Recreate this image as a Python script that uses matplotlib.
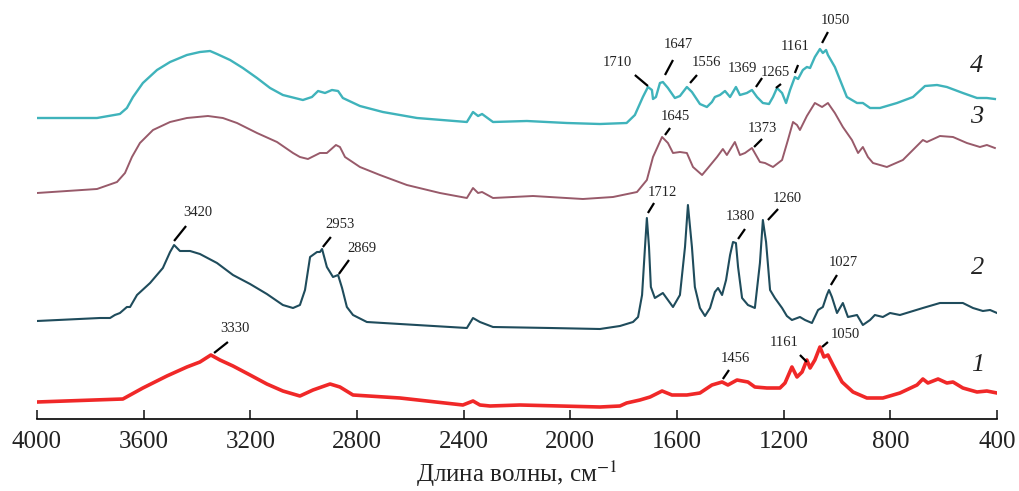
import matplotlib.pyplot as plt

plt.rcParams['font.family'] = ['Liberation Serif', 'DejaVu Serif']
plt.rcParams['mathtext.fontset'] = 'stix'

# IR spectra, wavenumber (cm-1) and intensity (arb. units, offset per curve)
wn_1 = [4000, 3678, 3603, 3513, 3438, 3389, 3348, 3314, 3265, 3201, 3138, 3078, 3014,
        2965, 2901, 2864, 2815, 2639, 2403, 2365, 2339, 2301, 2189, 2039, 1889, 1814,
        1789, 1739, 1701, 1656, 1619, 1563, 1514, 1469, 1431, 1409, 1375, 1334, 1308,
        1263, 1214, 1195, 1169, 1150, 1131, 1113, 1101, 1083, 1064, 1049, 1034, 1015,
        981, 940, 888, 828, 764, 700, 678, 659, 621, 588, 565, 528, 475, 438, 400]
int_1 = [0.17, 0.20, 0.31, 0.43, 0.52, 0.57, 0.64, 0.59, 0.53, 0.44, 0.35, 0.28, 0.23,
         0.29, 0.35, 0.32, 0.24, 0.21, 0.14, 0.18, 0.14, 0.13, 0.14, 0.13, 0.12, 0.13,
         0.16, 0.19, 0.22, 0.28, 0.24, 0.24, 0.26, 0.34, 0.37, 0.34, 0.39, 0.37, 0.32,
         0.31, 0.31, 0.36, 0.52, 0.42, 0.47, 0.59, 0.51, 0.59, 0.72, 0.62, 0.64, 0.54,
         0.37, 0.27, 0.21, 0.21, 0.26, 0.34, 0.40, 0.36, 0.40, 0.36, 0.37, 0.31, 0.27, 0.28, 0.26]

wn_2 = [4000, 3764, 3726, 3708, 3689, 3663, 3651, 3625, 3576, 3528, 3501, 3486, 3464,
        3426, 3389, 3325, 3265, 3201, 3138, 3078, 3040, 3014, 2995, 2976, 2950, 2939,
        2931, 2913, 2890, 2871, 2856, 2838, 2815, 2763, 2639, 2451, 2388, 2365, 2339,
        2290, 2076, 1889, 1814, 1765, 1746, 1731, 1720, 1713, 1705, 1698, 1683, 1653,
        1634, 1615, 1589, 1570, 1559, 1544, 1533, 1514, 1495, 1476, 1458, 1446, 1431,
        1416, 1401, 1390, 1379, 1371, 1356, 1334, 1308, 1289, 1278, 1266, 1251, 1233,
        1206, 1188, 1169, 1139, 1120, 1094, 1071, 1053, 1038, 1030, 1019, 1000, 978,
        959, 925, 903, 876, 858, 828, 801, 764, 678, 614, 528, 490, 453, 426, 400]
int_2 = [0.98, 1.01, 1.01, 1.04, 1.06, 1.12, 1.12, 1.24, 1.36, 1.51, 1.67, 1.74, 1.68,
         1.68, 1.65, 1.56, 1.44, 1.35, 1.25, 1.14, 1.11, 1.14, 1.29, 1.62, 1.67, 1.67,
         1.70, 1.52, 1.42, 1.44, 1.31, 1.12, 1.04, 0.97, 0.95, 0.92, 0.91, 1.01, 0.97,
         0.92, 0.91, 0.90, 0.93, 0.97, 1.02, 1.24, 1.72, 2.01, 1.72, 1.32, 1.21, 1.26,
         1.19, 1.12, 1.24, 1.72, 2.14, 1.72, 1.32, 1.11, 1.03, 1.11, 1.27, 1.31, 1.24,
         1.39, 1.64, 1.77, 1.76, 1.52, 1.21, 1.14, 1.11, 1.56, 1.99, 1.77, 1.29, 1.21,
         1.11, 1.03, 0.99, 1.02, 0.99, 0.96, 1.09, 1.12, 1.24, 1.29, 1.22, 1.06, 1.16,
         1.02, 1.04, 0.94, 0.99, 1.04, 1.02, 1.06, 1.04, 1.11, 1.16, 1.16, 1.11, 1.08, 1.09, 1.06]

wn_3 = [4000, 3775, 3700, 3670, 3644, 3614, 3565, 3501, 3438, 3359, 3303, 3250, 3175,
        3100, 3040, 3014, 2984, 2939, 2913, 2879, 2864, 2845, 2789, 2714, 2613, 2489,
        2388, 2365, 2346, 2331, 2290, 2140, 1953, 1840, 1750, 1713, 1690, 1656, 1634,
        1615, 1589, 1563, 1540, 1506, 1484, 1450, 1428, 1413, 1383, 1364, 1345, 1319,
        1289, 1270, 1240, 1206, 1184, 1165, 1150, 1139, 1113, 1083, 1056, 1034, 1008,
        978, 944, 921, 903, 884, 865, 813, 753, 678, 663, 614, 565, 513, 464, 438, 408]
int_3 = [2.26, 2.30, 2.37, 2.46, 2.62, 2.76, 2.89, 2.97, 3.01, 3.03, 3.01, 2.96, 2.86,
         2.77, 2.66, 2.62, 2.60, 2.66, 2.66, 2.74, 2.72, 2.62, 2.52, 2.44, 2.34, 2.26,
         2.21, 2.31, 2.26, 2.27, 2.21, 2.23, 2.20, 2.22, 2.27, 2.39, 2.62, 2.82, 2.76,
         2.66, 2.67, 2.66, 2.52, 2.44, 2.51, 2.62, 2.70, 2.64, 2.77, 2.64, 2.66, 2.71,
         2.57, 2.56, 2.52, 2.59, 2.79, 2.97, 2.94, 2.89, 3.03, 3.16, 3.12, 3.16, 3.06,
         2.92, 2.79, 2.66, 2.72, 2.62, 2.56, 2.52, 2.59, 2.79, 2.77, 2.83, 2.82, 2.76, 2.72, 2.74, 2.71]

wn_4 = [4000, 3775, 3689, 3663, 3640, 3603, 3550, 3501, 3438, 3389, 3351, 3325, 3276,
        3228, 3175, 3126, 3078, 3003, 2969, 2946, 2920, 2894, 2871, 2853, 2789, 2703,
        2575, 2388, 2365, 2346, 2331, 2290, 2163, 2013, 1889, 1789, 1758, 1728, 1709,
        1694, 1690, 1679, 1664, 1653, 1634, 1608, 1589, 1563, 1544, 1514, 1488, 1469,
        1458, 1439, 1420, 1401, 1379, 1364, 1338, 1319, 1300, 1278, 1255, 1240, 1225,
        1206, 1191, 1176, 1158, 1146, 1128, 1113, 1101, 1083, 1064, 1053, 1041, 1034,
        1008, 981, 963, 925, 903, 876, 839, 775, 715, 670, 625, 588, 528, 475, 438, 408]
int_4 = [3.01, 3.01, 3.05, 3.11, 3.22, 3.36, 3.49, 3.57, 3.64, 3.67, 3.68, 3.65, 3.59,
         3.51, 3.41, 3.31, 3.24, 3.19, 3.22, 3.28, 3.26, 3.29, 3.28, 3.21, 3.13, 3.07,
         3.01, 2.97, 3.07, 3.03, 3.05, 2.97, 2.98, 2.96, 2.95, 2.96, 3.04, 3.22, 3.32,
         3.29, 3.20, 3.22, 3.36, 3.37, 3.31, 3.21, 3.23, 3.32, 3.27, 3.15, 3.12, 3.17,
         3.22, 3.24, 3.28, 3.22, 3.32, 3.24, 3.26, 3.29, 3.22, 3.16, 3.15, 3.22, 3.31,
         3.26, 3.16, 3.29, 3.42, 3.40, 3.49, 3.52, 3.51, 3.62, 3.70, 3.66, 3.69, 3.64,
         3.52, 3.34, 3.22, 3.16, 3.16, 3.11, 3.11, 3.16, 3.22, 3.33, 3.34, 3.32, 3.26, 3.21, 3.21, 3.20]

# peak labels: text, text position, leader line start -> end
peak_labels = ['1710', '1647', '1556', '1369', '1265', '1161', '1050', '1645', '1373',
               '1712', '1380', '1260', '1027', '3420', '2953', '2869',
               '1456', '1161', '1050', '3330']
label_wn = [1825, 1596, 1488, 1353, 1233, 1158, 1008, 1608, 1278,
            1656, 1364, 1188, 978, 3396, 2864, 2781,
            1383, 1199, 970, 3258]
label_int = [3.56, 3.74, 3.56, 3.51, 3.46, 3.72, 3.99, 3.03, 2.91,
             2.27, 2.02, 2.21, 1.56, 2.07, 1.94, 1.71,
             0.61, 0.77, 0.84, 0.90]
lead_wn0 = [1758, 1615, 1525, 1281, 1210, 1146, 1034, 1626, 1281,
            1686, 1345, 1221, 1000, 3441, 2898, 2830,
            1405, 1139, 1034, 3284]
lead_int0 = [3.44, 3.59, 3.44, 3.41, 3.35, 3.54, 3.87, 2.91, 2.80,
             2.16, 1.90, 2.10, 1.44, 1.93, 1.82, 1.59,
             0.49, 0.64, 0.77, 0.77]
lead_wn1 = [1709, 1645, 1551, 1304, 1229, 1158, 1056, 1645, 1311,
            1709, 1371, 1259, 1023, 3486, 2928, 2868,
            1428, 1113, 1056, 3336]
lead_int1 = [3.33, 3.44, 3.36, 3.32, 3.31, 3.46, 3.76, 2.84, 2.72,
             2.06, 1.80, 1.99, 1.34, 1.78, 1.72, 1.45,
             0.40, 0.57, 0.72, 0.66]

curve_names = ['1', '2', '3', '4']
curve_name_wn = [471, 471, 475, 475]
curve_name_int = [0.54, 1.51, 3.02, 3.53]

fig = plt.figure(figsize=(10.2, 4.91), dpi=100)
ax = fig.add_axes([37 / 1020, 72 / 491, 960 / 1020, 419 / 491])

ax.plot(wn_4, int_4, color='#3fb3bb', lw=1.7)
ax.plot(wn_3, int_3, color='#985a6a', lw=1.4)
ax.plot(wn_2, int_2, color='#1f4c5c', lw=1.5)
ax.plot(wn_1, int_1, color='#f02828', lw=2.6)

for i in range(len(peak_labels)):
    ax.text(label_wn[i], label_int[i], peak_labels[i], fontsize=10.5,
            ha='center', va='center', color='#222222')
    ax.plot([lead_wn0[i], lead_wn1[i]], [lead_int0[i], lead_int1[i]],
            color='black', lw=1.6, solid_capstyle='butt')

for i in range(len(curve_names)):
    ax.text(curve_name_wn[i], curve_name_int[i], curve_names[i], fontsize=19,
            style='italic', ha='center', va='center', color='#222222')

ax.set_xlim(4000, 400)
ax.set_ylim(0, 4.19)
ax.set_xticks([4000, 3600, 3200, 2800, 2400, 2000, 1600, 1200, 800, 400])
ax.set_yticks([])
for side in ['left', 'right', 'top']:
    ax.spines[side].set_visible(False)
ax.spines['bottom'].set_linewidth(1.2)
ax.tick_params(axis='x', direction='in', length=6.5, width=1.2, pad=9,
               labelsize=18, colors='#222222')
ax.set_xlabel('Длина волны, см$^{-1}$', fontsize=18, labelpad=4, color='#222222')
ax.patch.set_visible(False)

fig.savefig('out.png', dpi=100)
